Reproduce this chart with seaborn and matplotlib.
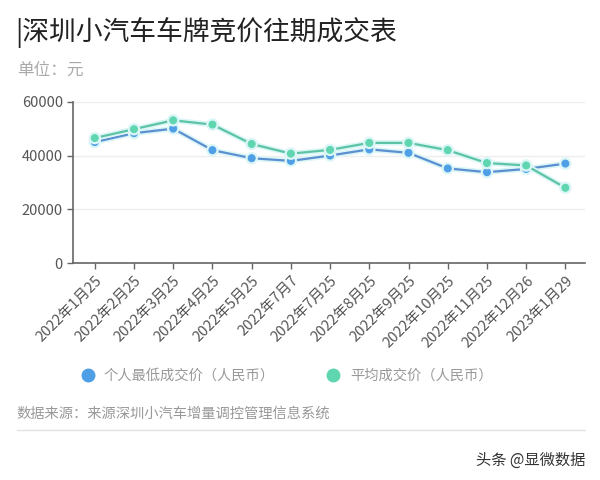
import matplotlib
matplotlib.use("Agg")
import matplotlib.pyplot as plt
import matplotlib.patheffects as pe
import seaborn as sns
import pandas as pd

dates = ["2022年1月25", "2022年2月25", "2022年3月25", "2022年4月25", "2022年5月25",
         "2022年7月7", "2022年7月25", "2022年8月25", "2022年9月25", "2022年10月25",
         "2022年11月25", "2022年12月26", "2023年1月29"]
min_price = [45000, 48300, 50000, 42000, 39000, 38000, 40000, 42300, 41000, 35200, 33800, 35000, 37000]
avg_price = [46500, 49800, 53100, 51500, 44300, 40700, 42100, 44700, 44700, 42000, 37200, 36300, 28000]
series_names = ["个人最低成交价（人民币）", "平均成交价（人民币）"]

sns.set_theme(style="white")
plt.rcParams['font.family'] = ['Noto Sans CJK SC', 'DejaVu Sans']

df = pd.DataFrame({
    "date": dates * 2,
    "value": min_price + avg_price,
    "series": [series_names[0]] * len(dates) + [series_names[1]] * len(dates),
})

line_colors = ["#5b8fcf", "#5cc4a4"]
marker_colors = ["#4f9fe6", "#5fd6b0"]

fig = plt.figure(figsize=(6, 4.8), dpi=100)
ax = fig.add_axes([0.122, 0.452, 0.853, 0.336])

for i, name in enumerate(series_names):
    sub = df[df["series"] == name]
    sns.lineplot(data=sub, x="date", y="value", ax=ax, color=line_colors[i],
                 marker="o", markersize=5, markerfacecolor=marker_colors[i],
                 markeredgecolor=marker_colors[i], linewidth=1.6, sort=False,
                 path_effects=[pe.Stroke(linewidth=4, foreground="#dcf6f8"), pe.Normal()])

ax.set_ylim(0, 60000)
ax.set_xlim(-0.55, 12.5)
ax.set_yticks([0, 20000, 40000, 60000])
ax.set_yticklabels(["0", "20000", "40000", "60000"])
ax.set_xlabel("")
ax.set_ylabel("")
ax.grid(axis="y", color="#eeeeee", linewidth=1)
for s in ["top", "right"]:
    ax.spines[s].set_visible(False)
for s in ["left", "bottom"]:
    ax.spines[s].set_color("#666666")
    ax.spines[s].set_linewidth(1.2)
ax.tick_params(axis="both", direction="out", length=4, width=1, color="#666666",
               labelcolor="#555555", labelsize=10.5, left=True, bottom=True)
plt.setp(ax.get_xticklabels(), rotation=45, ha="right", rotation_mode="anchor")
if ax.get_legend():
    ax.get_legend().remove()

fig.text(0.026, 0.932, "|深圳小汽车车牌竞价往期成交表", fontsize=19.3, color="#222222", va="center")
fig.text(0.028, 0.853, "单位：元", fontsize=12, color="#aaaaaa", va="center")

# legend
fig.lines.append(plt.Line2D([0.147], [0.218], marker="o", markersize=9, color=marker_colors[0],
                            transform=fig.transFigure))
fig.text(0.172, 0.218, series_names[0], fontsize=10.3, color="#999999", va="center")
fig.lines.append(plt.Line2D([0.555], [0.218], marker="o", markersize=9, color=marker_colors[1],
                            transform=fig.transFigure))
fig.text(0.583, 0.218, series_names[1], fontsize=10.3, color="#999999", va="center")

fig.text(0.028, 0.139, "数据来源：来源深圳小汽车增量调控管理信息系统", fontsize=10.3, color="#999999", va="center")
fig.lines.append(plt.Line2D([0.028, 0.975], [0.104, 0.104], color="#e3e3e3", linewidth=1,
                            transform=fig.transFigure))
fig.text(0.975, 0.042, "头条 @显微数据", fontsize=11, color="#333333", va="center", ha="right")

fig.savefig("out.png", dpi=100)
